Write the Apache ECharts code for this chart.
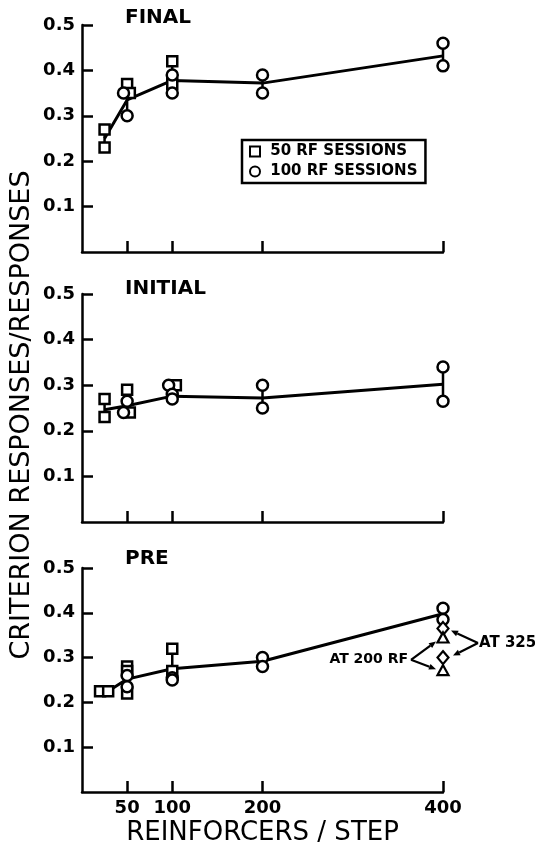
<!DOCTYPE html>
<html>
<head>
<meta charset="utf-8">
<script src="https://cdn.jsdelivr.net/npm/echarts@6/dist/echarts.min.js"></script>
<style>
html, body { margin: 0; padding: 0; background: #fff; }
#chart { width: 535px; height: 852px; }
</style>
</head>
<body>
<div id="chart"></div>
<script>
// reinforcers / step ticks and criterion ratio ticks
const xTicks = [50, 100, 200, 400]
const yTicks = [0.1, 0.2, 0.3, 0.4, 0.5]
const groupX = [25, 50, 100, 200, 400]
const panelNames = ['FINAL', 'INITIAL', 'PRE']

// FINAL
const finalSquares = [[25, 0.27], [25, 0.23], [50, 0.37], [53, 0.35], [100, 0.42], [100, 0.37]]
const finalCircles = [[46, 0.35], [50, 0.30], [100, 0.39], [100, 0.35], [200, 0.39], [200, 0.35], [400, 0.46], [400, 0.41]]
const finalMean = [[25, 0.25], [50, 0.335], [100, 0.378], [200, 0.372], [400, 0.432]]

// INITIAL
const initialSquares = [[25, 0.27], [25, 0.23], [50, 0.29], [53, 0.24], [104, 0.30]]
const initialCircles = [[50, 0.265], [46, 0.24], [96, 0.30], [100, 0.28], [100, 0.27], [200, 0.30], [200, 0.25], [400, 0.34], [400, 0.265]]
const initialMean = [[25, 0.246], [50, 0.255], [100, 0.276], [200, 0.272], [400, 0.302]]

// PRE
const preSquares = [[20, 0.225], [29, 0.225], [50, 0.28], [50, 0.27], [50, 0.22], [100, 0.32], [100, 0.27]]
const preCircles = [[50, 0.26], [50, 0.235], [100, 0.255], [100, 0.25], [200, 0.30], [200, 0.28], [400, 0.41], [400, 0.385]]
const preMean = [[29, 0.225], [50, 0.252], [100, 0.275], [200, 0.292], [400, 0.398]]
const preAt325 = [[400, 0.365], [400, 0.30]] // diamonds
const preAt200 = [[400, 0.345], [400, 0.272]] // triangles

const squares = [finalSquares, initialSquares, preSquares]
const circles = [finalCircles, initialCircles, preCircles]
const means = [finalMean, initialMean, preMean]

const FONT = 'DejaVu Sans'
const grids = [
  { left: 82, right: 92, top: 25, height: 227 },
  { left: 82, right: 92, top: 294, height: 228 },
  { left: 82, right: 92, top: 568, height: 224 }
]

const chart = echarts.init(document.getElementById('chart'))

const xAxes = []
const yAxes = []
const series = []
const titles = []
const titleTops = [8, 279, 549]

for (let i = 0; i < 3; i++) {
  titles.push({
    text: panelNames[i], left: 125, top: titleTops[i], padding: 0,
    textStyle: { fontFamily: FONT, fontWeight: 'bold', fontSize: 20, color: '#000' }
  })
  xAxes.push({
    gridIndex: i, type: 'value', min: 0, max: 400,
    axisLine: { lineStyle: { color: '#000', width: 2.5 } },
    axisTick: { inside: true, length: 11, customValues: xTicks, lineStyle: { color: '#000', width: 2.5 } },
    axisLabel: {
      show: i === 2, customValues: xTicks, margin: 7,
      fontFamily: FONT, fontWeight: 'bold', fontSize: 18, color: '#000'
    },
    splitLine: { show: false },
    name: i === 2 ? 'REINFORCERS / STEP' : '',
    nameLocation: 'middle', nameGap: 28,
    nameTextStyle: { fontFamily: FONT, fontSize: 26, color: '#000' }
  })
  yAxes.push({
    gridIndex: i, type: 'value', min: 0, max: 0.5, interval: 0.1,
    axisLine: { lineStyle: { color: '#000', width: 2.5 } },
    axisTick: { inside: true, length: 11, customValues: yTicks, lineStyle: { color: '#000', width: 2.5 } },
    axisLabel: {
      customValues: yTicks, margin: 7,
      formatter: v => v.toFixed(1),
      fontFamily: FONT, fontWeight: 'bold', fontSize: 18, color: '#000'
    },
    splitLine: { show: false }
  })

  // line through the group means
  series.push({
    type: 'line', xAxisIndex: i, yAxisIndex: i, data: means[i],
    symbol: 'none', lineStyle: { color: '#000', width: 3 }, z: 2, silent: true
  })

  // vertical range line joining the points of each group
  const pts = squares[i].concat(circles[i])
  groupX.forEach(g => {
    const ys = pts.filter(p => {
      let best = groupX[0]
      groupX.forEach(c => { if (Math.abs(c - p[0]) < Math.abs(best - p[0])) best = c })
      return best === g
    }).map(p => p[1])
    if (ys.length > 1) {
      series.push({
        type: 'line', xAxisIndex: i, yAxisIndex: i,
        data: [[g, Math.min(...ys)], [g, Math.max(...ys)]],
        symbol: 'none', lineStyle: { color: '#000', width: 2.5 }, z: 2, silent: true
      })
    }
  })

  series.push({
    name: '50 RF SESSIONS', type: 'scatter', xAxisIndex: i, yAxisIndex: i,
    data: squares[i], symbol: 'rect', symbolSize: 10, z: 4,
    itemStyle: { color: '#fff', borderColor: '#000', borderWidth: 2.5, opacity: 1 },
    emphasis: { disabled: true }
  })
  series.push({
    name: '100 RF SESSIONS', type: 'scatter', xAxisIndex: i, yAxisIndex: i,
    data: circles[i], symbol: 'circle', symbolSize: 11, z: 4,
    itemStyle: { color: '#fff', borderColor: '#000', borderWidth: 2.5, opacity: 1 },
    emphasis: { disabled: true }
  })
}

series.push({
  name: 'at325', type: 'scatter', xAxisIndex: 2, yAxisIndex: 2,
  data: preAt325, symbol: 'diamond', symbolSize: [11, 13], z: 5,
  itemStyle: { color: '#fff', borderColor: '#000', borderWidth: 2.2, opacity: 1 },
  emphasis: { disabled: true }
})
series.push({
  name: 'at200', type: 'scatter', xAxisIndex: 2, yAxisIndex: 2,
  data: preAt200, symbol: 'triangle', symbolSize: [11, 10], z: 5,
  itemStyle: { color: '#fff', borderColor: '#000', borderWidth: 2.2, opacity: 1 },
  emphasis: { disabled: true }
})

const option = {
  backgroundColor: '#fff',
  animation: false,
  title: titles,
  grid: grids,
  xAxis: xAxes,
  yAxis: yAxes,
  legend: {
    data: ['50 RF SESSIONS', '100 RF SESSIONS'],
    orient: 'vertical', left: 242, top: 140,
    padding: [4, 8, 4, 7], itemGap: 5, itemWidth: 10, itemHeight: 10,
    borderColor: '#000', borderWidth: 2.5,
    selectedMode: false,
    formatter: name => ' ' + name,
    textStyle: { fontFamily: FONT, fontWeight: 'bold', fontSize: 15, color: '#000' }
  },
  series: series
}
chart.setOption(option)

// annotation arrows, placed from the marker positions
const px = v => chart.convertToPixel({ gridIndex: 2 }, v)
const d1 = px(preAt325[0])
const d2 = px(preAt325[1])
const t1 = px(preAt200[0])
const t2 = px(preAt200[1])

function arrow (from, to) {
  const dx = to[0] - from[0]
  const dy = to[1] - from[1]
  const len = Math.sqrt(dx * dx + dy * dy)
  const ux = dx / len
  const uy = dy / len
  const bx = to[0] - ux * 7
  const by = to[1] - uy * 7
  return [
    { type: 'line', shape: { x1: from[0], y1: from[1], x2: bx, y2: by }, style: { stroke: '#000', lineWidth: 2.2 } },
    { type: 'polygon', shape: { points: [to, [bx - uy * 3, by + ux * 3], [bx + uy * 3, by - ux * 3]] }, style: { fill: '#000' } }
  ]
}

const v325 = [d1[0] + 35, (d1[1] + d2[1]) / 2]
const v200 = [t1[0] - 32, (t1[1] + t2[1]) / 2 + 6]

let graphics = [
  {
    type: 'text', x: 22, y: 415, rotation: Math.PI / 2,
    style: { text: 'CRITERION RESPONSES/RESPONSES', fontFamily: FONT, fontSize: 27, fill: '#000', align: 'center', verticalAlign: 'middle' }
  },
  {
    type: 'text', x: v325[0] + 1, y: v325[1],
    style: { text: 'AT 325', fontFamily: FONT, fontWeight: 'bold', fontSize: 15, fill: '#000', align: 'left', verticalAlign: 'middle' }
  },
  {
    type: 'text', x: v200[0] - 3, y: v200[1],
    style: { text: 'AT 200 RF', fontFamily: FONT, fontWeight: 'bold', fontSize: 14, fill: '#000', align: 'right', verticalAlign: 'middle' }
  }
]
graphics = graphics
  .concat(arrow(v325, [d1[0] + 8, d1[1] + 2]))
  .concat(arrow(v325, [d2[0] + 10, d2[1] - 2]))
  .concat(arrow(v200, [t1[0] - 7, t1[1] + 4]))
  .concat(arrow(v200, [t2[0] - 7, t2[1] - 1]))

chart.setOption({ graphic: graphics })
</script>
</body>
</html>
